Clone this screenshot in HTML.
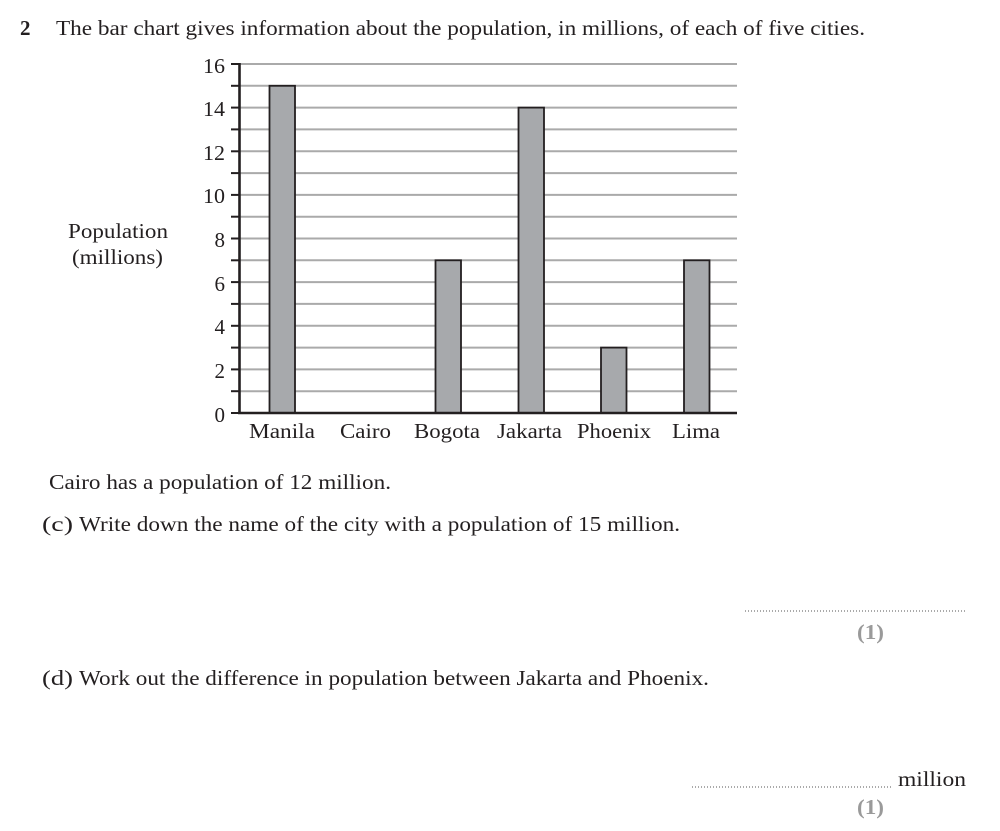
<!DOCTYPE html>
<html><head><meta charset="utf-8"><style>
html,body{margin:0;padding:0;background:#fff;}
body{width:1000px;height:831px;overflow:hidden;}
svg{display:block;}
text{font-family:"Liberation Serif","Times New Roman",serif;fill:#231f20;}
</style></head><body>
<svg width="1000" height="831" viewBox="0 0 1000 831" xmlns="http://www.w3.org/2000/svg">
<text x="20" y="35" font-size="21" font-weight="bold">2</text>
<text x="56" y="35" font-size="21" textLength="809" lengthAdjust="spacingAndGlyphs">The bar chart gives information about the population, in millions, of each of five cities.</text>

<g stroke="#aaa" stroke-width="2">
<line x1="240" y1="64" x2="737" y2="64"/>
<line x1="240" y1="85.8" x2="737" y2="85.8"/>
<line x1="240" y1="107.6" x2="737" y2="107.6"/>
<line x1="240" y1="129.4" x2="737" y2="129.4"/>
<line x1="240" y1="151.3" x2="737" y2="151.3"/>
<line x1="240" y1="173.1" x2="737" y2="173.1"/>
<line x1="240" y1="194.9" x2="737" y2="194.9"/>
<line x1="240" y1="216.7" x2="737" y2="216.7"/>
<line x1="240" y1="238.5" x2="737" y2="238.5"/>
<line x1="240" y1="260.3" x2="737" y2="260.3"/>
<line x1="240" y1="282.1" x2="737" y2="282.1"/>
<line x1="240" y1="303.9" x2="737" y2="303.9"/>
<line x1="240" y1="325.8" x2="737" y2="325.8"/>
<line x1="240" y1="347.6" x2="737" y2="347.6"/>
<line x1="240" y1="369.4" x2="737" y2="369.4"/>
<line x1="240" y1="391.2" x2="737" y2="391.2"/>
</g>
<g stroke="#231f20" stroke-width="2">
<line x1="231" y1="64" x2="240" y2="64"/>
<line x1="231" y1="85.8" x2="240" y2="85.8"/>
<line x1="231" y1="107.6" x2="240" y2="107.6"/>
<line x1="231" y1="129.4" x2="240" y2="129.4"/>
<line x1="231" y1="151.3" x2="240" y2="151.3"/>
<line x1="231" y1="173.1" x2="240" y2="173.1"/>
<line x1="231" y1="194.9" x2="240" y2="194.9"/>
<line x1="231" y1="216.7" x2="240" y2="216.7"/>
<line x1="231" y1="238.5" x2="240" y2="238.5"/>
<line x1="231" y1="260.3" x2="240" y2="260.3"/>
<line x1="231" y1="282.1" x2="240" y2="282.1"/>
<line x1="231" y1="303.9" x2="240" y2="303.9"/>
<line x1="231" y1="325.8" x2="240" y2="325.8"/>
<line x1="231" y1="347.6" x2="240" y2="347.6"/>
<line x1="231" y1="369.4" x2="240" y2="369.4"/>
<line x1="231" y1="391.2" x2="240" y2="391.2"/>
<line x1="231" y1="413" x2="240" y2="413"/>
</g>
<g fill="#a7a9ac" stroke="#231f20" stroke-width="1.8">
<rect x="269.5" y="85.8" width="25.5" height="327.2"/>
<rect x="435.5" y="260.3" width="25.5" height="152.7"/>
<rect x="518.5" y="107.6" width="25.5" height="305.4"/>
<rect x="601" y="347.6" width="25.5" height="65.4"/>
<rect x="684" y="260.3" width="25.5" height="152.7"/>
</g>
<line x1="239.5" y1="63" x2="239.5" y2="414" stroke="#231f20" stroke-width="2.6"/>
<line x1="238" y1="413" x2="737" y2="413" stroke="#231f20" stroke-width="2.6"/>

<g font-size="21" text-anchor="end">
<text x="225" y="73" textLength="22" lengthAdjust="spacingAndGlyphs">16</text>
<text x="225" y="116" textLength="22" lengthAdjust="spacingAndGlyphs">14</text>
<text x="225" y="160" textLength="22" lengthAdjust="spacingAndGlyphs">12</text>
<text x="225" y="203" textLength="22" lengthAdjust="spacingAndGlyphs">10</text>
<text x="225" y="247">8</text>
<text x="225" y="291">6</text>
<text x="225" y="334">4</text>
<text x="225" y="378">2</text>
<text x="225" y="422">0</text>
</g>
<g font-size="21">
<text x="68" y="238" textLength="100" lengthAdjust="spacingAndGlyphs">Population</text>
<text x="72" y="264" textLength="91" lengthAdjust="spacingAndGlyphs">(millions)</text>
</g>
<g font-size="21">
<text x="249" y="438" textLength="66" lengthAdjust="spacingAndGlyphs">Manila</text>
<text x="340" y="438" textLength="51" lengthAdjust="spacingAndGlyphs">Cairo</text>
<text x="414" y="438" textLength="66" lengthAdjust="spacingAndGlyphs">Bogota</text>
<text x="497" y="438" textLength="65" lengthAdjust="spacingAndGlyphs">Jakarta</text>
<text x="577" y="438" textLength="74" lengthAdjust="spacingAndGlyphs">Phoenix</text>
<text x="672" y="438" textLength="48" lengthAdjust="spacingAndGlyphs">Lima</text>
</g>

<text x="49" y="489" font-size="21" textLength="342" lengthAdjust="spacingAndGlyphs">Cairo has a population of 12 million.</text>
<text x="42" y="531" font-size="21" textLength="31" lengthAdjust="spacingAndGlyphs">(c)</text>
<text x="79" y="531" font-size="21" textLength="601" lengthAdjust="spacingAndGlyphs">Write down the name of the city with a population of 15 million.</text>
<line x1="745" y1="611" x2="966" y2="611" stroke="#555" stroke-width="1" stroke-dasharray="1,2"/>
<text x="857" y="639" font-size="21" font-weight="bold" textLength="27" lengthAdjust="spacingAndGlyphs" style="fill:#9a9a9a">(1)</text>

<text x="42" y="685" font-size="21" textLength="31" lengthAdjust="spacingAndGlyphs">(d)</text>
<text x="79" y="685" font-size="21" textLength="630" lengthAdjust="spacingAndGlyphs">Work out the difference in population between Jakarta and Phoenix.</text>
<line x1="692" y1="787" x2="893" y2="787" stroke="#555" stroke-width="1" stroke-dasharray="1,2"/>
<text x="898" y="786" font-size="21" textLength="68" lengthAdjust="spacingAndGlyphs">million</text>
<text x="857" y="814" font-size="21" font-weight="bold" textLength="27" lengthAdjust="spacingAndGlyphs" style="fill:#9a9a9a">(1)</text>
</svg>
</body></html>
